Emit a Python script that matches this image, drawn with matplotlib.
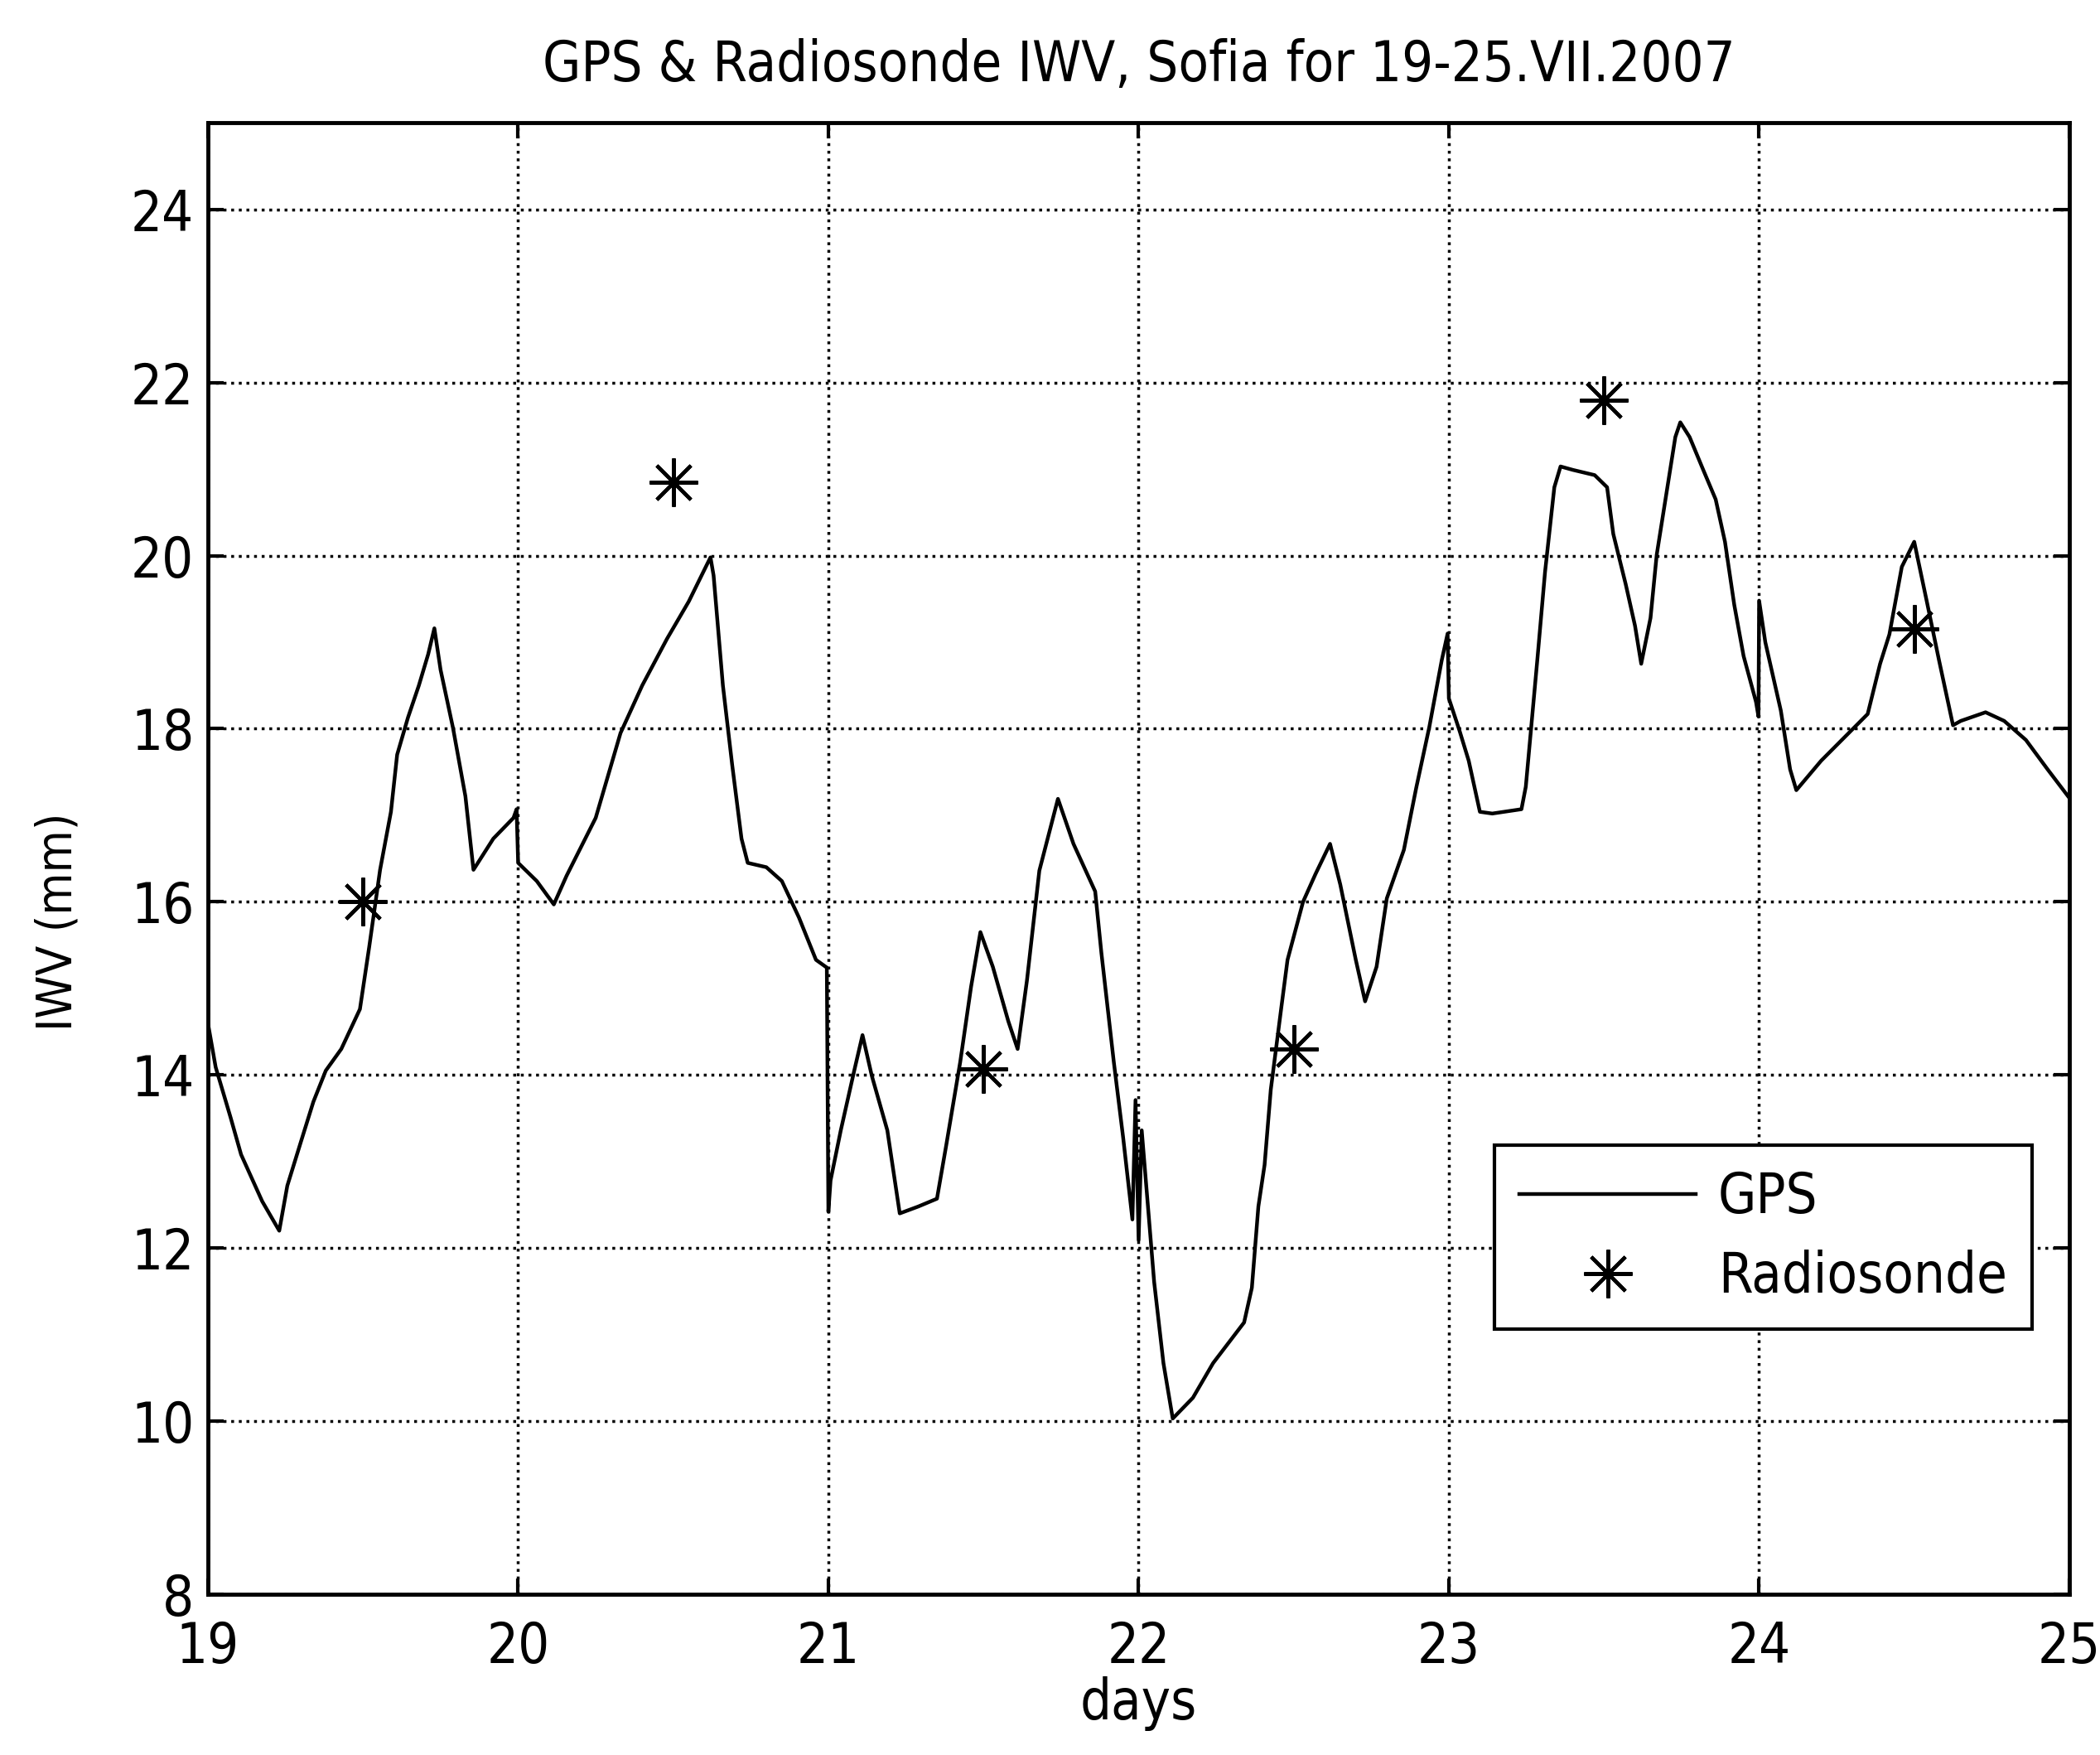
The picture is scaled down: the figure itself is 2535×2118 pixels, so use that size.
"""
GPS vs radiosonde integrated water vapour, Sofia, 19-25 July 2007.
Values read off the scanned MATLAB figure.
"""

import matplotlib
matplotlib.use('Agg')
import matplotlib.pyplot as plt
from matplotlib import font_manager

# the scan uses a tall, narrow Helvetica: take a condensed face if one is installed
narrow = None
for f in font_manager.fontManager.ttflist:
    if f.name == 'Liberation Sans Narrow' or ('Condensed' in f.fname and 'DejaVuSans' in f.fname
                                            and 'Bold' not in f.fname and 'Oblique' not in f.fname):
        narrow = f.fname
        break

if narrow:
    fp = font_manager.FontProperties(fname=narrow)
else:
    fp = font_manager.FontProperties(family=['Liberation Sans', 'DejaVu Sans'])

# GPS IWV (mm), time in days of July
gps_days = [
    19.0, 19.025, 19.073, 19.107, 19.175, 19.23, 19.256, 19.30, 19.34, 19.38,
    19.43, 19.49, 19.52, 19.555, 19.59, 19.61, 19.645, 19.68, 19.71, 19.73,
    19.75, 19.79, 19.83, 19.856, 19.92, 19.985, 19.995, 20.0, 20.06, 20.115,
    20.156, 20.25, 20.33, 20.40, 20.48, 20.55, 20.62, 20.63, 20.66, 20.69,
    20.72, 20.74, 20.80, 20.85, 20.905, 20.96, 20.995, 21.0, 21.007, 21.04,
    21.084, 21.11, 21.14, 21.19, 21.23, 21.29, 21.35, 21.38, 21.425, 21.46,
    21.49, 21.53, 21.58, 21.61, 21.64, 21.68, 21.74, 21.79, 21.86, 21.88,
    21.92, 21.95, 21.98, 21.99, 22.0, 22.01, 22.03, 22.05, 22.08, 22.11,
    22.175, 22.24, 22.34, 22.365, 22.386, 22.406, 22.426, 22.46, 22.48, 22.53,
    22.57, 22.617, 22.65, 22.70, 22.73, 22.767, 22.80, 22.855, 22.895, 22.937,
    22.977, 22.996, 23.0, 23.035, 23.064, 23.10, 23.14, 23.234, 23.248, 23.285,
    23.31, 23.34, 23.36, 23.40, 23.47, 23.51, 23.53, 23.57, 23.60, 23.62,
    23.65, 23.67, 23.70, 23.73, 23.746, 23.776, 23.82, 23.86, 23.89, 23.92,
    23.95, 23.99, 23.998, 24.0, 24.02, 24.07, 24.10, 24.12, 24.20, 24.35,
    24.39, 24.42, 24.46, 24.50, 24.54, 24.58, 24.625, 24.65, 24.73, 24.79,
    24.86, 24.93, 25.0,
]
gps_iwv = [
    14.6, 14.09, 13.51, 13.08, 12.54, 12.2, 12.72, 13.23, 13.69, 14.05,
    14.30, 14.76, 15.48, 16.37, 17.04, 17.70, 18.13, 18.50, 18.86, 19.16,
    18.68, 18.01, 17.22, 16.37, 16.73, 16.97, 17.07, 16.45, 16.24, 15.97,
    16.30, 16.97, 17.95, 18.50, 19.04, 19.47, 19.98, 19.77, 18.50, 17.58,
    16.73, 16.45, 16.40, 16.24, 15.82, 15.33, 15.24, 12.42, 12.78, 13.36,
    14.06, 14.46, 13.99, 13.36, 12.40, 12.48, 12.57, 13.19, 14.15, 15.02,
    15.65, 15.25, 14.62, 14.30, 15.09, 16.36, 17.19, 16.67, 16.12, 15.41,
    14.15, 13.28, 12.33, 13.71, 12.09, 13.36, 12.48, 11.61, 10.67, 10.03,
    10.27, 10.67, 11.14, 11.54, 12.48, 12.96, 13.83, 14.78, 15.33, 16.00,
    16.32, 16.67, 16.20, 15.33, 14.85, 15.25, 16.04, 16.60, 17.32, 18.02,
    18.79, 19.10, 18.35, 17.97, 17.63, 17.04, 17.02, 17.07, 17.33, 18.79,
    19.81, 20.79, 21.03, 20.99, 20.93, 20.79, 20.25, 19.67, 19.19, 18.75,
    19.28, 20.01, 20.69, 21.37, 21.54, 21.37, 20.99, 20.65, 20.16, 19.43,
    18.84, 18.31, 18.14, 19.48, 19.00, 18.21, 17.53, 17.29, 17.63, 18.17,
    18.75, 19.09, 19.87, 20.16, 19.48, 18.79, 18.04, 18.09, 18.19, 18.09,
    17.87, 17.53, 17.20,
]

# radiosonde soundings (12 UTC)
rs_days = [19.5, 20.5, 21.5, 22.5, 23.5, 24.5]
rs_iwv = [16.0, 20.85, 14.07, 14.3, 21.8, 19.15]

FS = 48

fig = plt.figure(figsize=(25.35, 21.18), dpi=100)
ax = fig.add_axes([0.099, 0.0916, 0.8864, 0.8384])

ax.plot(gps_days, gps_iwv, color='black', lw=3.2, label='GPS')
ax.plot(rs_days, rs_iwv, linestyle='none', marker=(8, 2, 0), markersize=42,
        markeredgewidth=3, color='black', label='Radiosonde')

ax.set_xlim(19, 25)
ax.set_ylim(8, 25)
ax.set_xticks(range(19, 26))
ax.set_yticks(range(8, 25, 2))
ax.grid(True, color='black', linestyle=':', linewidth=2.5)
ax.tick_params(direction='in', top=True, right=True, length=14, width=3)
ax.tick_params(axis='x', pad=22)
ax.tick_params(axis='y', pad=12)
for lab in ax.get_xticklabels() + ax.get_yticklabels():
    lab.set_fontproperties(fp)
    lab.set_fontsize(FS)
for s in ax.spines.values():
    s.set_linewidth(3.5)

ax.set_title('GPS & Radiosonde IWV, Sofia for 19-25.VII.2007', fontproperties=fp,
             fontsize=FS, pad=36)
ax.set_xlabel('days', fontproperties=fp, fontsize=FS, labelpad=2)
ax.set_ylabel('IWV (mm)', fontproperties=fp, fontsize=42)
ax.yaxis.set_label_coords(-0.068, 0.457)

leg = ax.legend(loc='upper right', bbox_to_anchor=(0.98, 0.305), borderaxespad=0,
                prop=font_manager.FontProperties(fname=narrow, size=FS) if narrow else {'size': FS},
                fancybox=False, edgecolor='black', framealpha=1,
                handlelength=3.2, borderpad=0.45, labelspacing=0.45, handletextpad=0.4)
leg.get_frame().set_linewidth(3)

fig.savefig('out.png', dpi=100)
